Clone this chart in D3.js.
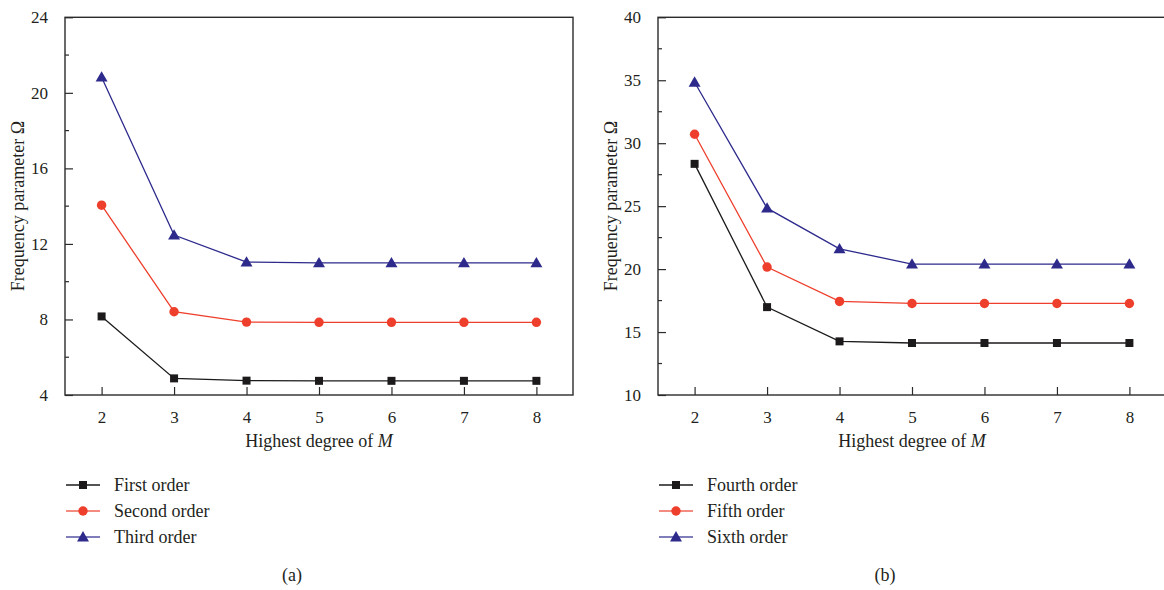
<!DOCTYPE html>
<html>
<head>
<meta charset="utf-8">
<script src="https://cdn.jsdelivr.net/npm/d3@7"></script>
<style>
  html, body { margin: 0; padding: 0; background: #fff; }
  svg { display: block; }
  text { font-family: "Liberation Serif", "Times New Roman", serif; fill: #231f20; }
</style>
</head>
<body>
<svg id="chart" width="1164" height="590"></svg>
<script>
// Highest degree of the admissible functions
const degrees = [2, 3, 4, 5, 6, 7, 8];

// Panel (a): first three orders
const firstOrder  = [8.16, 4.88, 4.76, 4.75, 4.75, 4.75, 4.75];
const secondOrder = [14.05, 8.41, 7.86, 7.85, 7.85, 7.85, 7.85];
const thirdOrder  = [20.83, 12.47, 11.04, 11.0, 11.0, 11.0, 11.0];

// Panel (b): orders four to six
const fourthOrder = [28.36, 16.98, 14.26, 14.13, 14.13, 14.13, 14.13];
const fifthOrder  = [30.71, 20.16, 17.43, 17.27, 17.27, 17.27, 17.27];
const sixthOrder  = [34.84, 24.84, 21.61, 20.4, 20.4, 20.4, 20.4];

const yTicksA = [4, 8, 12, 16, 20, 24];
const yTicksB = [10, 15, 20, 25, 30, 35, 40];

const seriesNamesA = ["First order", "Second order", "Third order"];
const seriesNamesB = ["Fourth order", "Fifth order", "Sixth order"];

const colors = ["#1c1a1b", "#ee3f2c", "#2d2a8c"];
const symbols = [d3.symbolSquare, d3.symbolCircle, d3.symbolTriangle];
const symbolSizes = [64, 70, 62];

const svg = d3.select("#chart");

function drawPanel(opts) {
  const { left, top, width, height, yDomain, yTicks, series, names, tag } = opts;
  const g = svg.append("g").attr("transform", `translate(${left},${top})`);

  const x = d3.scaleLinear().domain([1.495, 8.505]).range([0, width]);
  const y = d3.scaleLinear().domain(yDomain).range([height, 0]);

  // frame
  g.append("rect")
    .attr("x", 0).attr("y", 0).attr("width", width).attr("height", height)
    .attr("fill", "none").attr("stroke", "#2b2b2b").attr("stroke-width", 1.4);

  // minor y ticks halfway between majors
  const step = yTicks[1] - yTicks[0];
  const minor = yTicks.slice(0, -1).map(v => v + step / 2);
  g.append("g").selectAll("line").data(minor).join("line")
    .attr("x1", 0).attr("x2", 4)
    .attr("y1", d => y(d)).attr("y2", d => y(d))
    .attr("stroke", "#2b2b2b").attr("stroke-width", 1.2);

  // y axis (ticks inward)
  const yAxis = g.append("g").call(
    d3.axisLeft(y).tickValues(yTicks).tickSize(-8).tickPadding(17).tickFormat(d3.format("d"))
  );
  yAxis.select(".domain").remove();
  yAxis.selectAll(".tick line").attr("stroke", "#2b2b2b").attr("stroke-width", 1.2);
  yAxis.selectAll(".tick text")
    .style("font-family", "'Liberation Serif', serif")
    .attr("font-size", 17).attr("fill", "#231f20");

  // x axis (ticks inward)
  const xAxis = g.append("g").attr("transform", `translate(0,${height})`).call(
    d3.axisBottom(x).tickValues(degrees).tickSize(-8).tickPadding(16).tickFormat(d3.format("d"))
  );
  xAxis.select(".domain").remove();
  xAxis.selectAll(".tick line").attr("stroke", "#2b2b2b").attr("stroke-width", 1.2);
  xAxis.selectAll(".tick text")
    .style("font-family", "'Liberation Serif', serif")
    .attr("font-size", 17).attr("fill", "#231f20");

  // axis titles
  const xt = g.append("text")
    .attr("x", width / 2).attr("y", height + 52)
    .attr("text-anchor", "middle").attr("font-size", 18);
  xt.append("tspan").text("Highest degree of ");
  xt.append("tspan").attr("font-style", "italic").text("M");

  g.append("text")
    .attr("transform", `translate(${-41},${height / 2}) rotate(-90)`)
    .attr("text-anchor", "middle").attr("font-size", 18)
    .text("Frequency parameter Ω");

  // series lines and markers
  const line = d3.line().x((d, i) => x(degrees[i])).y(d => y(d));
  series.forEach((vals, k) => {
    g.append("path").datum(vals)
      .attr("d", line).attr("fill", "none")
      .attr("stroke", colors[k]).attr("stroke-width", 1.3);
    g.append("g").selectAll("path").data(vals).join("path")
      .attr("d", d3.symbol().type(symbols[k]).size(symbolSizes[k]))
      .attr("transform", (d, i) => `translate(${x(degrees[i])},${y(d) + (k === 2 ? 1 : 0)})`)
      .attr("fill", colors[k]);
  });

  // legend
  const lg = g.append("g").attr("transform", `translate(0,${height + 90})`);
  names.forEach((name, k) => {
    const row = lg.append("g").attr("transform", `translate(0,${k * 26})`);
    row.append("line").attr("x1", 1).attr("x2", 35).attr("y1", 0).attr("y2", 0)
      .attr("stroke", colors[k]).attr("stroke-width", 1.4).attr("opacity", k === 0 ? 1 : 0.8);
    row.append("path")
      .attr("d", d3.symbol().type(symbols[k]).size(symbolSizes[k]))
      .attr("transform", `translate(18,${k === 2 ? 1 : 0})`)
      .attr("fill", colors[k]);
    row.append("text").attr("x", 49).attr("y", 6).attr("font-size", 18).text(name);
  });

  // panel tag
  g.append("text")
    .attr("x", width / 2 - 27).attr("y", height + 186)
    .attr("text-anchor", "middle").attr("font-size", 18)
    .text(tag);
}

drawPanel({
  left: 65, top: 17.3, width: 508, height: 377.7,
  yDomain: [4, 24], yTicks: yTicksA,
  series: [firstOrder, secondOrder, thirdOrder],
  names: seriesNamesA, tag: "(a)"
});

drawPanel({
  left: 658, top: 17.3, width: 508, height: 377.7,
  yDomain: [10, 40], yTicks: yTicksB,
  series: [fourthOrder, fifthOrder, sixthOrder],
  names: seriesNamesB, tag: "(b)"
});
</script>
</body>
</html>
